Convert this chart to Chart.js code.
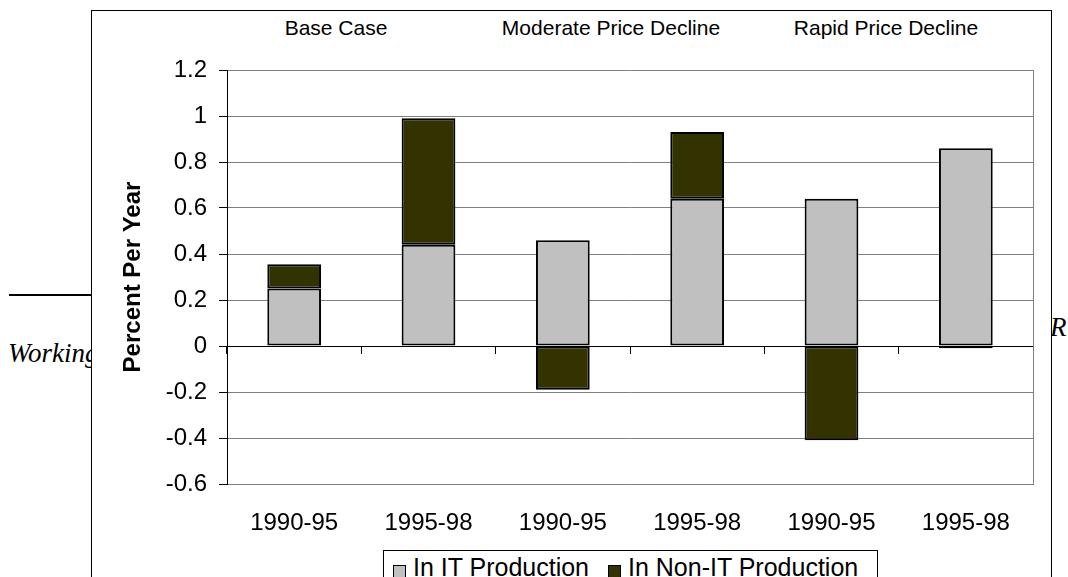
<!DOCTYPE html>
<html>
<head>
<meta charset="utf-8">
<script src="https://cdn.jsdelivr.net/npm/chart.js@4"></script>
<style>
  body { margin: 0; width: 1068px; height: 577px; overflow: hidden; background: #fff; position: relative; font-family: "Liberation Sans", Arial, sans-serif; }
  .stray-line { position: absolute; left: 9px; top: 294px; width: 82px; height: 2px; background: #000; }
  .stray-text { position: absolute; font-family: "Liberation Serif", "Times New Roman", serif; font-style: italic; font-size: 27px; line-height: 27px; color: #000; }
  #frame { position: absolute; left: 91px; top: 10px; width: 959px; height: 600px; border: 1px solid #000; background: #fff; }
  #chart-wrap { position: absolute; left: 0; top: 0; width: 1068px; height: 577px; }
  .group-title { position: absolute; top: 17px; width: 260px; margin-left: -130px; text-align: center; font-size: 21px; line-height: 21px; color: #000; }
  #legend { position: absolute; left: 383px; top: 550px; width: 493px; height: 60px; border: 1px solid #000; background: #fff; font-size: 25px; line-height: 25px; white-space: nowrap; }
  .legend-item { position: absolute; top: 4px; }
  .legend-box { display: inline-block; width: 11px; height: 11px; border: 1px solid #000; margin-right: 7px; vertical-align: -2px; }
</style>
</head>
<body>
<div class="stray-line"></div>
<div class="stray-text" style="left:8px; top:340px;">Working Paper</div>
<div class="stray-text" style="left:1050px; top:314px;">R</div>
<div id="frame"></div>
<div id="titles"></div>
<div id="chart-wrap"><canvas id="chart" width="1068" height="577"></canvas></div>
<div id="legend"></div>
<script>
const categories = ["1990-95", "1995-98", "1990-95", "1995-98", "1990-95", "1995-98"];
const groupTitles = ["Base Case", "Moderate Price Decline", "Rapid Price Decline"];
const seriesNames = ["In IT Production", "In Non-IT Production"];
const itProduction = [0.25, 0.44, 0.46, 0.64, 0.64, 0.86];
const nonItProduction = [0.105, 0.55, -0.19, 0.29, -0.41, -0.01];
const yTickLabels = ["-0.6", "-0.4", "-0.2", "0", "0.2", "0.4", "0.6", "0.8", "1", "1.2"];

const seriesColors = ["#c0c0c0", "#333300"];
const titleCenters = [336, 611, 886];

function buildTitles() {
  const holder = document.getElementById("titles");
  groupTitles.forEach((t, i) => {
    const div = document.createElement("div");
    div.className = "group-title";
    div.style.left = titleCenters[i] + "px";
    div.textContent = t;
    holder.appendChild(div);
  });
}

function buildLegend() {
  const legend = document.getElementById("legend");
  const lefts = [9, 224];
  seriesNames.forEach((name, i) => {
    const item = document.createElement("div");
    item.className = "legend-item";
    item.style.left = lefts[i] + "px";
    const box = document.createElement("span");
    box.className = "legend-box";
    box.style.background = seriesColors[i];
    item.appendChild(box);
    item.appendChild(document.createTextNode(name));
    legend.appendChild(item);
  });
}

function tickText(value) {
  const label = yTickLabels.find((t) => Math.abs(Number(t) - value) < 1e-6);
  return label === undefined ? "" : label;
}

function drawChart() {
  const ctx = document.getElementById("chart").getContext("2d");
  const font = { family: "'Liberation Sans', Arial, sans-serif", size: 24 };

  new Chart(ctx, {
    type: "bar",
    data: {
      labels: categories,
      datasets: [
        {
          label: seriesNames[0],
          data: itProduction,
          backgroundColor: seriesColors[0],
          borderColor: "#000",
          borderWidth: 2,
          borderSkipped: false,
          xAxisID: "x",
          yAxisID: "y",
        },
        {
          label: seriesNames[1],
          data: nonItProduction,
          backgroundColor: seriesColors[1],
          borderColor: "#000",
          borderWidth: 2,
          borderSkipped: false,
          xAxisID: "x",
          yAxisID: "y",
        },
      ],
    },
    options: {
      responsive: false,
      animation: false,
      events: [],
      layout: { padding: { left: 117, top: 70, right: 35, bottom: 0 } },
      datasets: { bar: { categoryPercentage: 1, barPercentage: 0.4 } },
      plugins: { legend: { display: false }, tooltip: { enabled: false } },
      scales: {
        x: {
          type: "category",
          stacked: true,
          offset: true,
          grid: { display: false, drawTicks: false },
          border: { display: false },
          ticks: { color: "#000", font, padding: 25, maxRotation: 0, autoSkip: false },
          afterFit: (scale) => { scale.height = 93; },
        },
        x2: {
          type: "category",
          position: { y: 0 },
          offset: true,
          grid: { display: true, offset: true, drawOnChartArea: false, drawTicks: true, tickLength: 7, color: "#000" },
          border: { display: true, color: "#000", width: 1 },
          ticks: { display: false },
        },
        y: {
          stacked: true,
          min: -0.6,
          max: 1.2,
          ticks: { stepSize: 0.2, color: "#000", font, padding: 12, callback: tickText },
          grid: {
            color: (c) => (c.tick && Math.abs(c.tick.value) < 1e-6 ? "#000" : "#808080"),
            tickColor: "#000",
            tickLength: 8,
            lineWidth: 1,
          },
          border: { color: "#000", width: 1 },
          title: {
            display: true,
            text: "Percent Per Year",
            color: "#000",
            font: { family: font.family, size: 24, weight: "bold" },
            padding: { top: 2, bottom: 0 },
          },
          afterFit: (scale) => { scale.width = 110; },
        },
        y2: {
          position: "right",
          min: -0.6,
          max: 1.2,
          ticks: { display: false },
          grid: { display: false },
          border: { display: true, color: "#808080", width: 1 },
          afterFit: (scale) => { scale.width = 0; },
        },
      },
    },
  });
}

buildTitles();
buildLegend();
drawChart();
</script>
</body>
</html>
